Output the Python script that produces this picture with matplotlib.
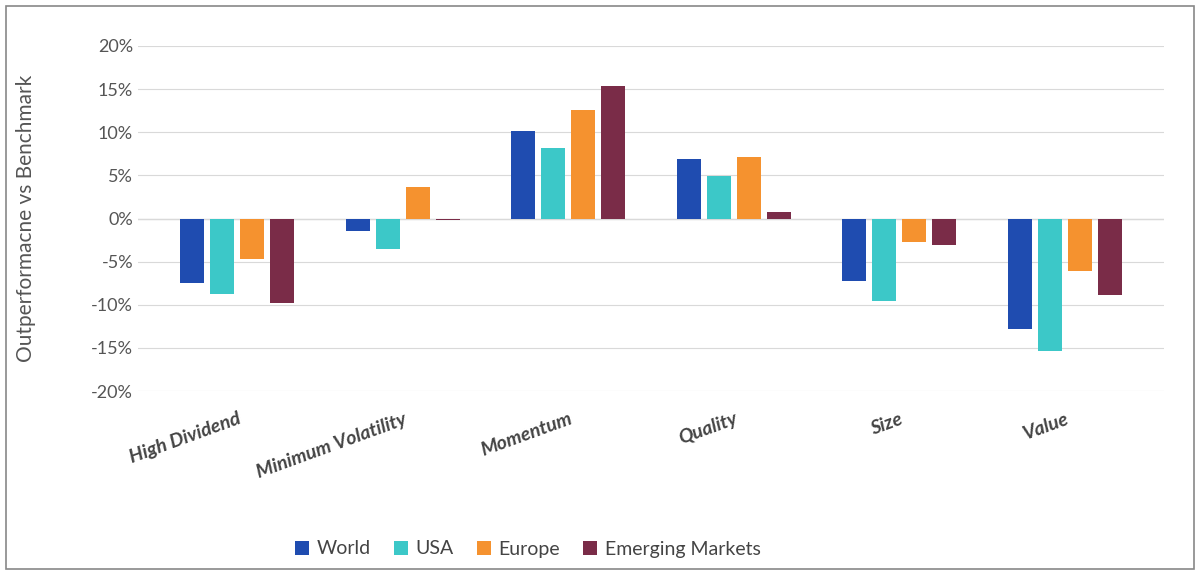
import matplotlib.pyplot as plt
import numpy as np

categories = ["High Dividend", "Minimum Volatility", "Momentum", "Quality", "Size", "Value"]
series = ["World", "USA", "Europe", "Emerging Markets"]
world = [-7.5, -1.5, 10.1, 6.9, -7.3, -12.8]
usa = [-8.7, -3.5, 8.2, 4.9, -9.6, -15.4]
europe = [-4.7, 3.6, 12.6, 7.1, -2.7, -6.1]
emerging = [-9.8, -0.2, 15.4, 0.8, -3.1, -8.9]
colors = ["#1f4cb0", "#3cc8c8", "#f5922f", "#7a2c48"]

plt.rcParams["font.family"] = ["Lato", "DejaVu Sans"]
fig = plt.figure(figsize=(12, 5.75), dpi=100)
ax = fig.add_axes([0.115, 0.32, 0.855, 0.6])

x = np.arange(len(categories))
w = 0.145
for i, (name, vals) in enumerate(zip(series, [world, usa, europe, emerging])):
    ax.bar(x + (i - 1.5) * w * 1.25, vals, w, color=colors[i], label=name, zorder=3)

ax.set_ylim(-20, 20)
ax.set_xlim(-0.6, 5.6)
ax.set_yticks(range(-20, 21, 5))
ax.set_yticklabels([f"{t}%" for t in range(-20, 21, 5)], fontsize=13, color="#555555")
ax.grid(axis="y", color="#d9d9d9", zorder=0)
ax.axhline(0, color="#d9d9d9", lw=1, zorder=2)
for s in ax.spines.values():
    s.set_visible(False)
ax.tick_params(length=0)
ax.set_xticks(x)
ax.set_xticklabels(categories, rotation=20, ha="right", rotation_mode="anchor",
                   fontsize=14, fontweight="bold", fontstyle="italic", color="#444444")
ax.tick_params(axis="x", pad=14)
ax.set_ylabel("Outperformacne vs Benchmark", fontsize=15, color="#555555", labelpad=40)

fig.legend(loc="lower center", ncol=4, frameon=False, fontsize=14, bbox_to_anchor=(0.44, 0.0),
           handlelength=0.7, handleheight=0.7, columnspacing=1.2, handletextpad=0.4,
           labelcolor="#444444")
fig.patches.append(plt.Rectangle((0.005, 0.01), 0.99, 0.98, transform=fig.transFigure,
                                 fill=False, edgecolor="#888888", lw=1.2))
fig.savefig("out.png", dpi=100)
